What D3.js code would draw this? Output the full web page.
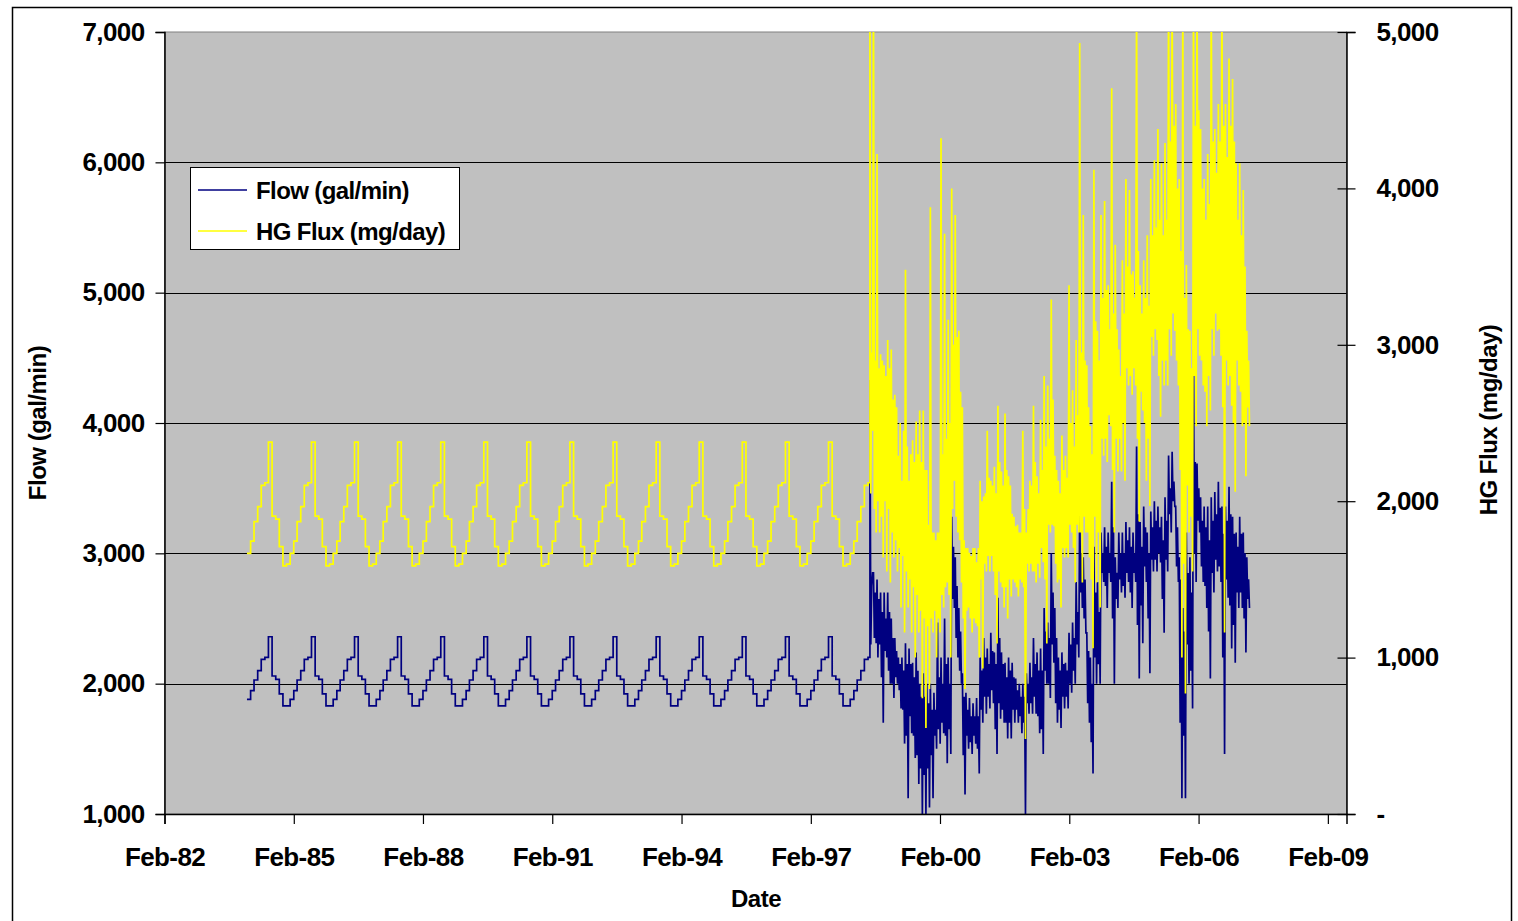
<!DOCTYPE html>
<html lang="en">
<head>
<meta charset="UTF-8">
<title>Flow and HG Flux</title>
<script src="https://d3js.org/d3.v7.min.js"></script>
<style>
  body { margin: 0; background: #fff; }
  svg text { font-family: "Liberation Sans", Arial, sans-serif; font-weight: bold; fill: #000; }
</style>
</head>
<body>
<svg id="chart" width="1518" height="921"></svg>
<script>
// ---- data ----
// long-term monthly averages (Jan..Dec), repeated each year 1984 - mid 1998
const seasonalYears = [1984, 1985, 1986, 1987, 1988, 1989, 1990, 1991, 1992, 1993, 1994, 1995, 1996, 1997, 1998];
const seasonalFlow = [1880, 1946, 2028, 2100, 2187, 2202, 2360, 2059, 2033, 1921, 1829, 1829];
const seasonalFlux = [1667, 1745, 1869, 1965, 2101, 2118, 2378, 1905, 1886, 1709, 1586, 1598];
const seasonalLastMonth = 5; // June 1998

// measured period from mid 1998: per month the extreme high / low
// and the high / low of the dense core of the trace
const noisyStart = new Date(1998, 5, 17);
const monthDays = 30.14;
const flowExtremes = [
  4330, 2850, 2850, 2310, 2800, 2300, 2700, 1700, 2700, 2200, 2700, 2000, 2500, 1890, 2350, 2000,
  2200, 1810, 2200, 1540, 2310, 1120, 2270, 1620, 2160, 1430, 2240, 1230, 2000, 1000, 2080, 1000,
  2000, 1050, 2000, 1120, 1930, 1500, 2470, 1540, 2200, 1620, 2500, 1390, 2200, 1460, 3280, 2580,
  2970, 2200, 2580, 2000, 2080, 1150, 1930, 1500, 1890, 1460, 1850, 1540, 1890, 1310, 2200, 1700,
  2350, 1770, 2270, 1810, 2390, 1850, 2240, 1460, 2660, 1730, 2240, 1700, 2160, 1580, 2200, 1580,
  2160, 1700, 2040, 1700, 2000, 1620, 2000, 1000, 2080, 1770, 2160, 1770, 2350, 1770, 2240, 1620,
  2270, 1460, 2580, 2000, 2470, 1890, 3000, 2160, 2580, 1700, 2200, 1660, 2240, 1810, 2160, 1810,
  2390, 1930, 2470, 2000, 2780, 2200, 3400, 2580, 2970, 2390, 2390, 1700, 2200, 1310, 3050, 2000,
  2780, 2000, 3160, 2780, 3200, 2580, 3160, 2780, 3550, 2000, 2970, 2580, 3160, 2700, 3160, 2660,
  3240, 2780, 3200, 2580, 3160, 2780, 3820, 2040, 3240, 2310, 3360, 2780, 3160, 2080, 3320, 2860,
  3400, 2860, 3360, 2930, 3280, 2390, 3430, 2860, 3750, 3160, 3780, 3360, 3360, 2780, 2970, 1120,
  2580, 1120, 3160, 2000, 2970, 1810, 4560, 2780, 3690, 3160, 3430, 2780, 3360, 2580, 3360, 2040,
  3430, 2700, 3470, 2860, 3550, 2780, 3360, 1460, 3360, 2660, 3510, 2270, 3280, 2160, 3160, 2580,
  3280, 2580, 3160, 2240, 2970, 2580
];
const flowCore = [
  2750, 2300, 2700, 2350, 2650, 2200, 2550, 2050, 2500, 2250, 2550, 2100,
  2350, 2000, 2250, 2050, 2150, 1950, 2100, 1800,
  2150, 1600, 2150, 1750, 2050, 1600, 2100, 1450, 1900, 1350, 1900, 1300,
  1850, 1350, 1800, 1450, 1800, 1600, 2050, 1650, 2000, 1700, 2150, 1600, 2000, 1650,
  3050, 2650, 2750, 2350, 2400, 2100,
  1900, 1450, 1800, 1600, 1750, 1550, 1750, 1600, 1750, 1500,
  2100, 1800, 2200, 1900, 2150, 1900, 2250, 1950,
  2150, 1650, 2350, 1850, 2150, 1800, 2050, 1700, 2100, 1700, 2050, 1800, 1950, 1800, 1900, 1750,
  1900, 1700, 2000, 1850, 2050, 1850, 2150, 1900, 2100, 1750, 2100, 1650,
  2400, 2100, 2350, 2000, 2700, 2300, 2350, 1850,
  2100, 1800, 2150, 1900, 2100, 1900,
  2300, 2000, 2350, 2100, 2550, 2300,
  3000, 2700, 2800, 2500,
  2250, 1850, 2000, 1550,
  2700, 2200, 2550, 2150,
  3000, 2850, 3050, 2750, 3000, 2850, 3200, 2500, 2850, 2650, 3000, 2800,
  3000, 2750, 3100, 2850, 3050, 2700, 3000, 2850, 3300, 2450, 3050, 2600, 3200, 2900, 3000, 2500,
  3200, 2950, 3250, 2950, 3200, 3000, 3100, 2650, 3250, 2950, 3500, 3300, 3550, 3400, 3200, 2900,
  2800, 1700, 2400, 1600, 2850, 2300, 2700, 2100,
  3700, 3000, 3500, 3250,
  3250, 2900, 3200, 2750, 3100, 2400, 3250, 2850, 3300, 2950, 3350, 2900, 3150, 2200,
  3250, 2800, 3300, 2600, 3150, 2450, 3050, 2700, 3150, 2700, 3000, 2500, 2800, 2650
];
const fluxExtremes = [
  5400, 2450, 5400, 1800, 4220, 1800, 2940, 1640, 2870, 1550, 3030, 1480, 2970, 1640, 2680, 1550,
  2290, 1320, 2130, 1160, 3480, 1320, 2130, 1160, 2390, 1000, 2510, 1160, 2580, 740, 2580, 550,
  2200, 800, 3880, 1160, 1800, 1000, 1800, 1160, 4320, 1320, 3710, 1480, 3160, 1000, 4000, 2130,
  3830, 1800, 3090, 1480, 2600, 800, 1700, 1320, 1670, 1160, 1700, 1220, 1610, 1000, 2130, 930,
  2030, 1550, 2450, 1550, 2130, 1550, 2220, 1090, 2610, 1480, 2190, 1320, 2560, 1250, 2160, 1390,
  1920, 1480, 1840, 1390, 1800, 1480, 2450, 480, 1800, 1550, 2130, 1550, 2610, 1480, 2160, 1510,
  2520, 1610, 2800, 1090, 2740, 1800, 3290, 1840, 2290, 1480, 2130, 1320, 2420, 1640, 2290, 1640,
  3380, 1800, 2710, 1480, 3030, 1800, 4930, 1480, 3830, 1800, 2870, 1640, 2480, 1060, 4120, 1480,
  3090, 1320, 3830, 2290, 3920, 2250, 3380, 2480, 4640, 1800, 3640, 2190, 2970, 2190, 3540, 2130,
  4060, 2740, 3990, 2680, 3470, 2740, 5400, 1870, 3380, 2580, 3540, 2130, 3700, 1970, 4060, 2930,
  4180, 3030, 4380, 2540, 4160, 2740, 4290, 2740, 5400, 2930, 5400, 3090, 4540, 2740, 4060, 1000,
  5400, 770, 3510, 1800, 3090, 1550, 5400, 2480, 5400, 2930, 4380, 2740, 4060, 2480, 4220, 2580,
  5400, 2930, 4380, 3090, 4540, 2930, 5400, 1160, 4540, 2740, 4830, 2610, 4700, 2060, 4160, 2740,
  4160, 2480, 3990, 2160, 3090, 2480
];
const fluxCore = [
  2950, 2050, 2900, 1950, 2850, 2000, 2900, 1900, 2800, 2000, 2850, 1950,
  2650, 1800, 2600, 1750, 2500, 1700, 2450, 1650,
  2350, 1550, 2300, 1500, 2250, 1450, 2300, 1400, 2250, 1300, 2200, 1250,
  1850, 1200, 1800, 1250, 1750, 1300, 1800, 1250,
  2300, 1400, 2400, 1450, 2500, 1400,
  3000, 1950, 3050, 1900, 2700, 1750,
  1750, 1250, 1700, 1300, 1650, 1250, 1700, 1250, 1700, 1200,
  2000, 1500, 2050, 1600, 2150, 1650, 2100, 1650,
  2050, 1400, 2250, 1550, 2100, 1450, 2200, 1450, 2100, 1500, 1900, 1500, 1850, 1450, 1800, 1500,
  1950, 1450, 1950, 1600, 2100, 1600, 2250, 1550, 2050, 1600, 2200, 1700,
  2350, 1500, 2400, 1850, 2650, 1850, 2200, 1600,
  2050, 1500, 2200, 1700, 2150, 1700,
  2500, 1850, 2350, 1700, 2550, 1850,
  2950, 1800, 2900, 1900, 2600, 1800, 2300, 1500,
  3150, 1900, 2900, 1800,
  3300, 2400, 3350, 2400, 3100, 2550,
  3200, 2200, 3100, 2400, 2800, 2400,
  3200, 2500, 3500, 2850, 3450, 2800, 3300, 2850,
  3600, 2400, 3200, 2700, 3300, 2500, 3250, 2400,
  3700, 3050, 3750, 3100, 3800, 2800, 3700, 2900, 3800, 2900,
  4300, 3100, 4400, 3200, 4000, 2900,
  3600, 2200,
  3300, 1600, 3100, 2100, 2850, 1900,
  4400, 2800, 4500, 3100,
  4000, 2900, 3800, 2700, 3900, 2800, 4300, 3100, 4100, 3200, 4300, 3100,
  4400, 2600, 4200, 2900, 4400, 2800,
  4300, 2500, 3800, 2900, 3700, 2700, 3500, 2500, 2900, 2600
];

const flowTicks = [1000, 2000, 3000, 4000, 5000, 6000, 7000];
const fluxTicks = [0, 1000, 2000, 3000, 4000, 5000];
const dateTickYears = [1982, 1985, 1988, 1991, 1994, 1997, 2000, 2003, 2006, 2009];

const seriesNames = ["Flow (gal/min)", "HG Flux (mg/day)"];
const seriesColors = ["#000080", "#FFFF00"];

// ---- build point lists ----
function seasonalPoints(pattern) {
  const pts = [];
  seasonalYears.forEach(yr => {
    pattern.forEach((v, m) => {
      if (yr === 1998 && m > seasonalLastMonth) return;
      pts.push({ date: new Date(yr, m, 1), value: v });
    });
  });
  return pts;
}
// each month: extreme high, core low, core high, extreme low
function measuredPoints(ext, core) {
  const pts = [];
  const months = Math.min(ext.length, core.length) / 2;
  for (let m = 0; m < months; m++) {
    [ext[2 * m], core[2 * m + 1], core[2 * m], ext[2 * m + 1]].forEach((v, k) => {
      const days = (m + k / 4) * monthDays;
      pts.push({ date: new Date(noisyStart.getTime() + days * 864e5), value: v });
    });
  }
  return pts;
}

const flowSeason = seasonalPoints(seasonalFlow);
const fluxSeason = seasonalPoints(seasonalFlux);
const flowNoisy = measuredPoints(flowExtremes, flowCore);
const fluxNoisy = measuredPoints(fluxExtremes, fluxCore);

// ---- layout ----
const svg = d3.select("#chart");
const plotL = 164.5, plotR = 1346.5, plotT = 32, plotB = 814;

svg.append("rect").attr("x", 12.5).attr("y", 7.5).attr("width", 1499).attr("height", 930)
  .attr("fill", "#fff").attr("stroke", "#000").attr("stroke-width", 1.5);

const x = d3.scaleTime().domain([new Date(1982, 1, 1), new Date(2009, 6, 9)]).range([plotL, plotR]);
const yL = d3.scaleLinear().domain([1000, 7000]).range([plotB, plotT]);
const yR = d3.scaleLinear().domain([0, 5000]).range([plotB, plotT]);

// plot area
svg.append("rect").attr("x", plotL).attr("y", plotT).attr("width", plotR - plotL).attr("height", plotB - plotT)
  .attr("fill", "#C0C0C0").attr("stroke", "#808080").attr("stroke-width", 1);

// gridlines
svg.append("g").selectAll("line").data(flowTicks.slice(1, -1)).join("line")
  .attr("x1", plotL).attr("x2", plotR)
  .attr("y1", d => Math.round(yL(d)) + 0.5).attr("y2", d => Math.round(yL(d)) + 0.5)
  .attr("stroke", "#000").attr("stroke-width", 1);

svg.append("clipPath").attr("id", "clip").append("rect")
  .attr("x", plotL).attr("y", plotT).attr("width", plotR - plotL).attr("height", plotB - plotT);

const lines = svg.append("g").attr("clip-path", "url(#clip)");
const stepL = d3.line().x(d => x(d.date)).y(d => yL(d.value)).curve(d3.curveStepAfter);
const stepR = d3.line().x(d => x(d.date)).y(d => yR(d.value)).curve(d3.curveStepAfter);
const lineL = d3.line().x(d => x(d.date)).y(d => yL(d.value));
const lineR = d3.line().x(d => x(d.date)).y(d => yR(d.value));

// flow first, flux drawn on top
const flowPath = stepL(flowSeason.concat([{ date: flowNoisy[0].date, value: seasonalFlow[seasonalLastMonth] }]))
  + lineL(flowNoisy).replace(/^M/, "L");
const fluxPath = stepR(fluxSeason.concat([{ date: fluxNoisy[0].date, value: seasonalFlux[seasonalLastMonth] }]))
  + lineR(fluxNoisy).replace(/^M/, "L");
lines.append("path").attr("d", flowPath)
  .attr("fill", "none").attr("stroke", seriesColors[0]).attr("stroke-width", 1.7);
lines.append("path").attr("d", fluxPath)
  .attr("fill", "none").attr("stroke", seriesColors[1]).attr("stroke-width", 1.7);

// axes
const fmt = d3.format(",");
const axL = svg.append("g").attr("transform", `translate(${plotL},0)`)
  .call(d3.axisLeft(yL).tickValues(flowTicks).tickFormat(fmt).tickSize(9).tickPadding(11));
const axR = svg.append("g").attr("transform", `translate(${plotR},0)`)
  .call(d3.axisRight(yR).tickValues(fluxTicks).tickFormat(d => d === 0 ? "-" : fmt(d)).tickSize(9).tickPadding(21));
axR.selectAll(".tick line").attr("x1", -9);
const axB = svg.append("g").attr("transform", `translate(0,${plotB})`)
  .call(d3.axisBottom(x).tickValues(dateTickYears.map(y => new Date(y, 1, 1)))
    .tickFormat(d3.timeFormat("%b-%y")).tickSize(10).tickPadding(24));

[axL, axR, axB].forEach(a => {
  a.select(".domain").attr("stroke", "#000").attr("stroke-width", 1.5);
  a.selectAll(".tick line").attr("stroke", "#000").attr("stroke-width", 1.2);
  a.selectAll(".tick text").attr("font-size", 26).attr("letter-spacing", -0.6)
    .attr("font-family", "'Liberation Sans', Arial, sans-serif").attr("font-weight", "bold").attr("fill", "#000");
});

// axis titles
svg.append("text").attr("transform", "translate(46,423) rotate(-90)").attr("text-anchor", "middle")
  .attr("font-size", 24).attr("letter-spacing", -0.5).text("Flow (gal/min)");
svg.append("text").attr("transform", "translate(1497,420) rotate(-90)").attr("text-anchor", "middle")
  .attr("font-size", 24).attr("letter-spacing", -0.5).text("HG Flux (mg/day)");
svg.append("text").attr("x", 756).attr("y", 907).attr("text-anchor", "middle")
  .attr("font-size", 24).attr("letter-spacing", -0.5).text("Date");

// legend
const lg = svg.append("g").attr("transform", "translate(190,167)");
lg.append("rect").attr("x", 0.5).attr("y", 0.5).attr("width", 269).attr("height", 82)
  .attr("fill", "#fff").attr("stroke", "#000").attr("stroke-width", 1);
seriesNames.forEach((name, i) => {
  const yy = 23 + i * 41;
  lg.append("line").attr("x1", 8).attr("x2", 57).attr("y1", yy).attr("y2", yy)
    .attr("stroke", seriesColors[i]).attr("stroke-width", 1.6);
  lg.append("text").attr("x", 66).attr("y", yy + 8.5).attr("font-size", 24).attr("letter-spacing", -0.6).text(name);
});
</script>
</body>
</html>
